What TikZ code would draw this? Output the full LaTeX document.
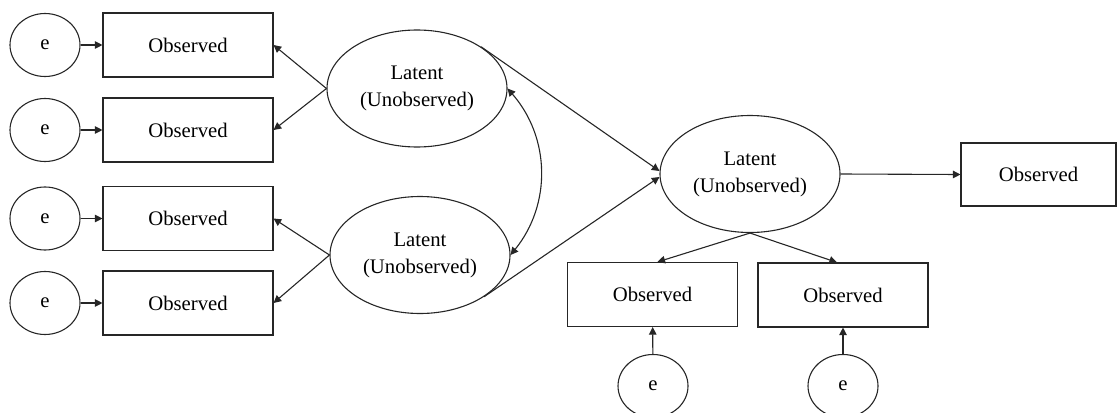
\documentclass[tikz,border=0pt]{standalone}
\usepackage{fontspec}
\setmainfont{Liberation Serif}
\usetikzlibrary{arrows.meta,shapes.geometric}

\begin{document}
\begin{tikzpicture}[
  x=0.5pt, y=-0.5pt,
  every node/.style={font=\fontsize{10.35}{13.5}\selectfont, align=center},
  line/.style={draw=black!85, line width=0.55pt},
  conn/.style={line, -{Triangle[length=3.8pt,width=3.8pt]}},
  obsbox/.style={line, rectangle, minimum width=85pt, minimum height=32pt, inner sep=0pt},
  errnode/.style={line, ellipse, minimum width=35pt, minimum height=31.5pt, inner sep=0pt},
  latnode/.style={line, ellipse, minimum width=90pt, minimum height=58.5pt, inner sep=0pt}
]
\useasboundingbox (0,0) rectangle (1118,412);

% measurement blocks on the left
\node[errnode] (e1) at (45,45) {e};
\node[errnode] (e2) at (45,130) {e};
\node[errnode] (e3) at (45,218.5) {e};
\node[errnode] (e4) at (45,303) {e};

\node[obsbox] (o1) at (188,45) {Observed};
\node[obsbox] (o2) at (188,130) {Observed};
\node[obsbox] (o3) at (188,218.5) {Observed};
\node[obsbox] (o4) at (188,303) {Observed};

\node[latnode] (l1) at (417,88.5) {Latent\\(Unobserved)};
\node[latnode] (l2) at (420,255) {Latent\\(Unobserved)};

% outcome latent and its indicators
\node[latnode] (l3) at (750,174) {Latent\\(Unobserved)};
\node[obsbox, minimum width=77.5pt, minimum height=31.5pt] (o5) at (1038.5,174.5) {Observed};
\node[obsbox] (o6) at (652.5,294.5) {Observed};
\node[obsbox] (o7) at (843,295) {Observed};
\node[errnode] (e5) at (653,386) {e};
\node[errnode] (e6) at (843,386) {e};

% error terms
\draw[conn] (e1) -- (o1);
\draw[conn] (e2) -- (o2);
\draw[conn] (e3) -- (o3);
\draw[conn] (e4) -- (o4);
\draw[conn] (e5) -- (o6);
\draw[conn] (e6) -- (o7);

% loadings
\draw[conn] (l1.west) -- (o1.east);
\draw[conn] (l1.west) -- (o2.east);
\draw[conn] (l2.west) -- (o3.east);
\draw[conn] (l2.west) -- (o4.east);
\draw[conn] (l3.east) -- (o5.west);
\draw[conn] (l3.south) -- ([xshift=2.5pt]o6.north);
\draw[conn] (l3.south) -- ([xshift=-3pt]o7.north);

% structural paths and covariance
\draw[conn] (l1.north east) -- ([yshift=1.5pt]l3.west);
\draw[conn] (l2.south east) -- ([yshift=-1.5pt]l3.west);
\draw[line, {Triangle[length=3.8pt,width=3.8pt]}-{Triangle[length=3.8pt,width=3.8pt]}]
  (l1.east) to[bend left=40] (l2.east);
\end{tikzpicture}
\end{document}
